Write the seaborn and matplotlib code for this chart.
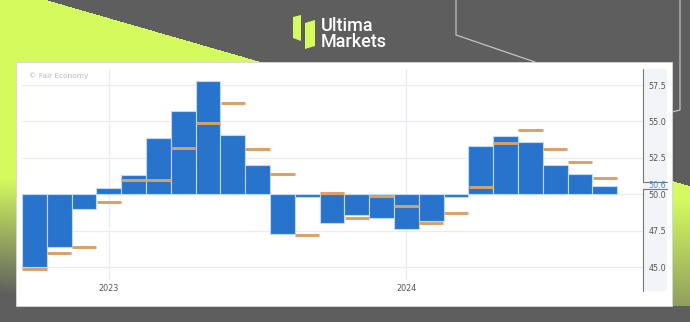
import numpy as np
import pandas as pd
import matplotlib
matplotlib.use("Agg")
import matplotlib.pyplot as plt
from matplotlib.patches import Rectangle, Polygon
import seaborn as sns

# Monthly PMI: actual readings and consensus forecasts (Oct 2022 - Sep 2024)
months = pd.date_range("2022-10-01", periods=24, freq="MS").strftime("%Y-%m").tolist()
actual = [45.0, 46.4, 49.0, 50.4, 51.3, 53.9, 55.7, 57.8, 54.1, 52.0, 47.3, 49.8,
          48.0, 48.6, 48.4, 47.6, 48.2, 49.8, 53.3, 54.0, 53.6, 52.0, 51.4, 50.6]
forecast = [44.9, 46.0, 46.4, 49.5, 51.0, 51.0, 53.2, 54.9, 56.3, 53.1, 51.4, 47.2,
            50.1, 48.4, 49.9, 49.2, 48.0, 48.7, 50.5, 53.5, 54.4, 53.1, 52.2, 51.1]
baseline = 50.0
year_months = ["2023-01", "2024-01"]
year_labels = ["2023", "2024"]
y_ticks = [45.0, 47.5, 50.0, 52.5, 55.0, 57.5]
source_text = "© Fair Economy"
brand_lines = ["Ultima", "Markets"]

W, H = 690, 322
BAR_BLUE = "#2874cc"
FC_ORANGE = "#d9a066"
LIME = np.array([0.835, 0.984, 0.372])
GREY = np.array([0.372, 0.372, 0.372])

sns.set_theme(style="white")
plt.rcParams["font.family"] = ["DejaVu Sans"]

fig = plt.figure(figsize=(W / 100, H / 100), dpi=100)

# ---- page background: grey with a lime diagonal band fading downwards
bg = fig.add_axes([0, 0, 1, 1])
yy, xx = np.mgrid[0:H, 0:W] + 0.5
edge = 0.289 * (xx - 46)
start = 178 + 0.03 * xx
span = 115 + 0.1 * xx
t = np.clip((yy - start) / span, 0, 1)[..., None]
img = np.ones((H, W, 3)) * GREY
band = LIME * (1 - t) + GREY * t
mask = (yy > edge) & (yy < 306)
img[mask] = band[mask]
bg.imshow(img, extent=(0, W, H, 0), aspect="auto", interpolation="bilinear", zorder=0)
bg.set_xlim(0, W)
bg.set_ylim(H, 0)
bg.axis("off")

# decorative outline strokes
bg.plot([456, 456, 535], [0, 35, 62], color="#c4c4c4", lw=0.9, zorder=1)
bg.plot([680, 680, 672], [0, 110, 112], color="#c4c4c4", lw=0.9, zorder=1)

# logo
bg.add_patch(Polygon([(293, 17), (301, 15), (301, 41), (293, 38)], closed=True,
                     fc=LIME, ec="none", zorder=2))
bg.add_patch(Polygon([(305, 23), (315, 20), (315, 46), (305, 49)], closed=True,
                     fc=LIME, ec="none", zorder=2))
bg.text(321, 34, "\n".join(brand_lines), color="white", fontsize=13,
        family=["Roboto", "DejaVu Sans"], weight="medium", linespacing=0.8,
        va="center", ha="left", zorder=2)

# white chart card and the right value-axis strip
bg.add_patch(Rectangle((16, 62), 656, 244, fc="white", ec="#d6d6d6", lw=0.6, zorder=3))
bg.add_patch(Rectangle((643, 69), 24, 222, fc="#f3f4f8", ec="none", zorder=4))

# ---- main plot
ax_left, ax_right, ax_top, ax_bottom = 22, 643, 69, 280
ax = fig.add_axes([ax_left / W, (H - ax_bottom) / H,
                   (ax_right - ax_left) / W, (ax_bottom - ax_top) / H])
ax.set_facecolor("none")

df = pd.DataFrame({"month": months, "actual": actual, "forecast": forecast})
df["delta"] = df["actual"] - baseline

sns.barplot(data=df, x="month", y="delta", order=months, bottom=baseline,
            color=BAR_BLUE, saturation=1, width=1.0, errorbar=None,
            edgecolor="#c3d8f2", linewidth=0.8, ax=ax, zorder=3)

pos = np.arange(len(months))
ax.hlines(df["forecast"], pos - 0.49, pos + 0.49, color=FC_ORANGE, lw=2.1, zorder=4)

px_per_unit = 14.56
y_at_50 = 194.3
ax.set_ylim(baseline - (ax_bottom - y_at_50) / px_per_unit,
            baseline + (y_at_50 - ax_top) / px_per_unit)
ax.set_xlim(-0.5, -0.5 + (ax_right - ax_left) / 24.8)

ax.set_yticks(y_ticks)
ax.set_yticklabels([f"{v:.1f}" for v in y_ticks])
ax.yaxis.tick_right()
ax.set_xticks([months.index(m) for m in year_months])
ax.set_xticklabels(year_labels)
ax.tick_params(axis="y", length=0, pad=3.8, labelsize=5.8, labelcolor="#555555")
ax.tick_params(axis="x", length=0, pad=3.0, labelsize=5.8, labelcolor="#555555")
ax.set_xlabel("")
ax.set_ylabel("")
ax.grid(True, color="#eaecf2", lw=0.9, zorder=0)
ax.set_axisbelow(True)
for s in ax.spines.values():
    s.set_visible(False)

# ---- overlay: right axis rule, latest-value tag, source note
ov = fig.add_axes([0, 0, 1, 1])
ov.set_xlim(0, W)
ov.set_ylim(H, 0)
ov.axis("off")
ov.set_facecolor("none")
ov.plot([643, 643, 667], [69, 182, 182], color="#777777", lw=0.8)
ov.plot([667, 643, 643], [189, 189, 291], color="#777777", lw=0.8)
ov.text(648, 185.5, f"{actual[-1]:.1f}", color="#4a8fe0", fontsize=5.8, va="center", ha="left")
ov.text(29, 76, source_text, color="#b8b8b8", fontsize=5.3, va="center", ha="left")

fig.savefig("out.png", dpi=100)
